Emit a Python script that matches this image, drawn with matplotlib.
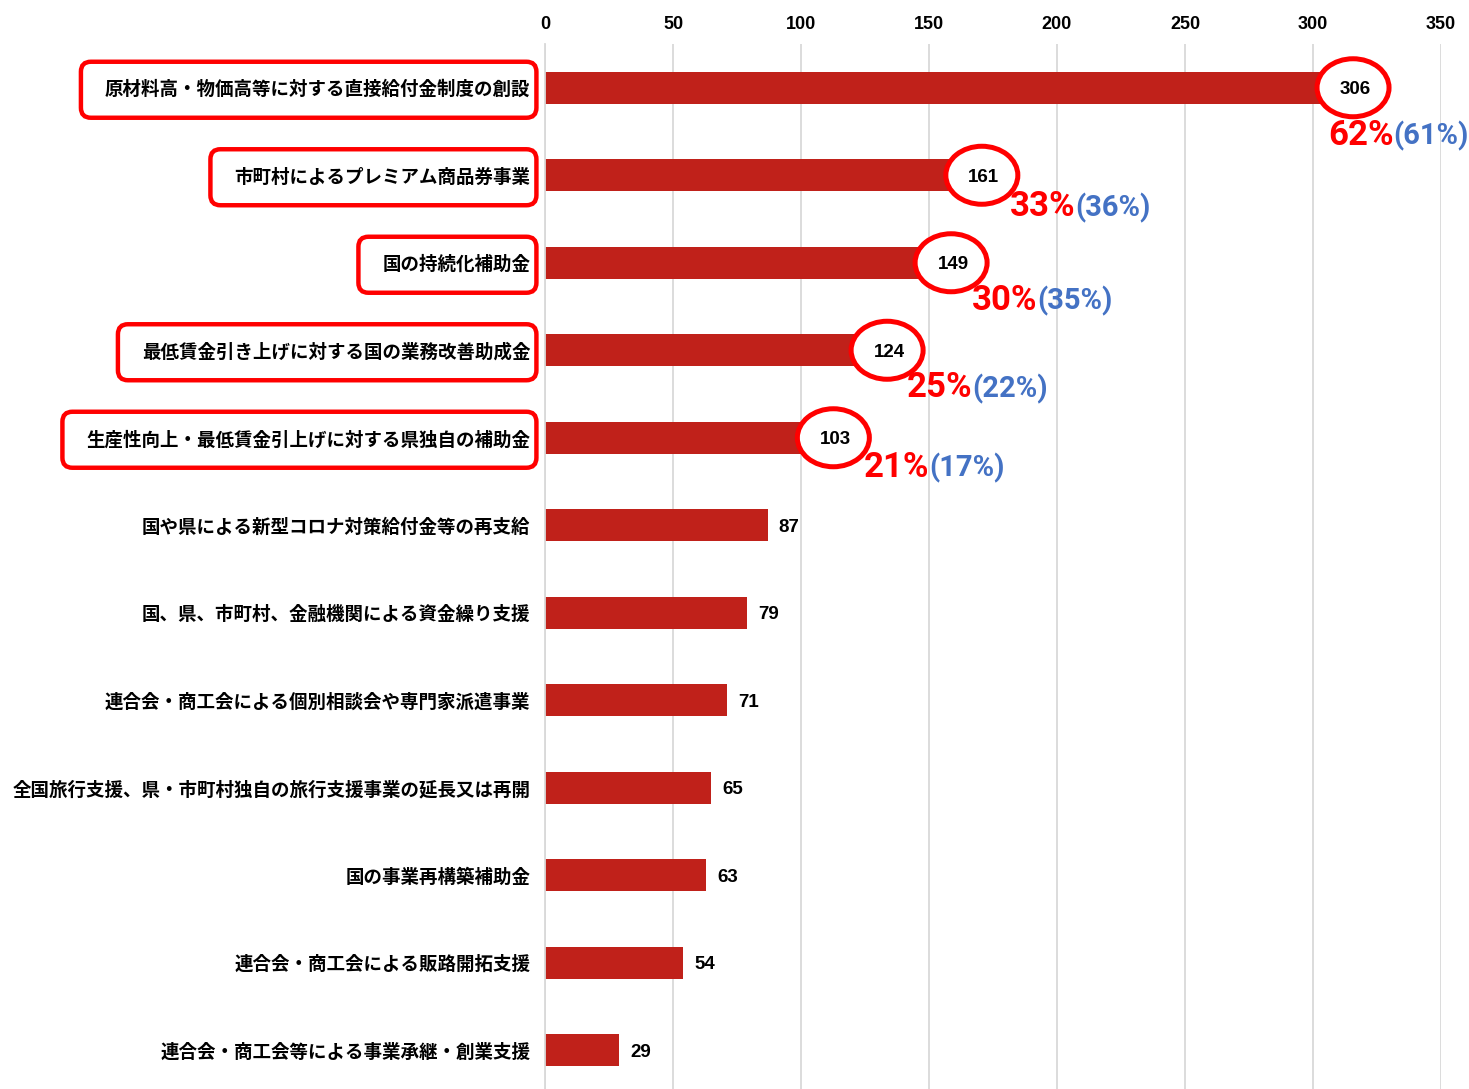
import matplotlib
matplotlib.use('Agg')
import matplotlib.pyplot as plt
from matplotlib.patches import FancyBboxPatch, Ellipse
from matplotlib.transforms import IdentityTransform

# ---------------- data ----------------
categories = [
    '原材料高・物価高等に対する直接給付金制度の創設',
    '市町村によるプレミアム商品券事業',
    '国の持続化補助金',
    '最低賃金引き上げに対する国の業務改善助成金',
    '生産性向上・最低賃金引上げに対する県独自の補助金',
    '国や県による新型コロナ対策給付金等の再支給',
    '国、県、市町村、金融機関による資金繰り支援',
    '連合会・商工会による個別相談会や専門家派遣事業',
    '全国旅行支援、県・市町村独自の旅行支援事業の延長又は再開',
    '国の事業再構築補助金',
    '連合会・商工会による販路開拓支援',
    '連合会・商工会等による事業承継・創業支援',
]
values = [306, 161, 149, 124, 103, 87, 79, 71, 65, 63, 54, 29]
share_now = ['62%', '33%', '30%', '25%', '21%']
share_prev = ['(61%)', '(36%)', '(35%)', '(22%)', '(17%)']
x_ticks = [0, 50, 100, 150, 200, 250, 300, 350]

# ---------------- layout / style ----------------
W, H = 1469, 1089
BAR_COLOR = '#C0211A'
HL_RED = '#FF0000'
BLUE = '#4472C4'
GRID = '#D9D9D9'
LAT = ['Liberation Sans', 'DejaVu Sans']
CJK = ['Noto Sans CJK JP', 'DejaVu Sans']
PCT = ['Roboto', 'DejaVu Sans']
# offsets (px) of percentage text from circle centre: (dx, baseline dy downward)
pct_offsets = [(-25, 57), (28, 41), (21, 47), (20, 47), (30, 39)]

fig = plt.figure(figsize=(W / 100, H / 100), dpi=100)
fig.patch.set_facecolor('white')
ax = fig.add_axes([545 / W, 0, (1441 - 545) / W, (H - 44) / H])

n = len(categories)
ypos = list(range(n))
ax.barh(ypos, values, height=0.37, color=BAR_COLOR, zorder=2)

ax.set_xlim(0, 350)
ax.set_ylim(-0.5 + (H - 44) / 87.5, -0.5)
ax.set_xticks(x_ticks)
ax.set_xticklabels([str(t) for t in x_ticks], family=LAT, fontweight='bold', fontsize=13)
ax.set_yticks(ypos)
ax.set_yticklabels(categories, family=CJK, fontweight='bold', fontsize=13.3)
ax.xaxis.tick_top()
ax.tick_params(axis='x', length=0, pad=8)
ax.tick_params(axis='y', length=0, pad=10.5)
ax.set_axisbelow(True)
ax.xaxis.grid(True, color=GRID, lw=1.3)
for s in ['top', 'right', 'bottom']:
    ax.spines[s].set_visible(False)
ax.spines['left'].set_color(GRID)
ax.spines['left'].set_linewidth(1.3)

value_labels = []
for i, v in enumerate(values):
    t = ax.annotate(str(v), xy=(v, i), xytext=(8, 0), textcoords='offset points',
                    va='center_baseline', ha='left', fontsize=13.5, fontweight='bold',
                    family=LAT, color='black', zorder=6, annotation_clip=False)
    value_labels.append(t)

fig.canvas.draw()
renderer = fig.canvas.get_renderer()

# rounded red boxes around highlighted category labels
ticklabels = ax.get_yticklabels()
for i in range(len(share_now)):
    bb = ticklabels[i].get_window_extent(renderer)
    cy = (bb.y0 + bb.y1) / 2
    x0 = bb.x0 - 24
    x1 = bb.x1 + 6
    box = FancyBboxPatch((x0, cy - 28), x1 - x0, 56,
                         boxstyle='round,pad=0,rounding_size=10',
                         transform=IdentityTransform(), fill=False,
                         edgecolor=HL_RED, lw=3.2, zorder=5)
    fig.add_artist(box)

# circles around value labels + percentage texts
for i in range(len(share_now)):
    bb = value_labels[i].get_window_extent(renderer)
    cx = (bb.x0 + bb.x1) / 2 - 2
    cy = (bb.y0 + bb.y1) / 2 + 2
    e = Ellipse((cx, cy), 72, 58, transform=IdentityTransform(),
                facecolor='white', edgecolor=HL_RED, lw=3.6, zorder=4,
                clip_on=False)
    ax.add_artist(e)
    dx, dyb = pct_offsets[i]
    red = fig.text((cx + dx) / W, (cy - dyb) / H, share_now[i], color=HL_RED,
                   fontsize=25, fontweight='bold', family=PCT,
                   ha='left', va='baseline')
    rb = red.get_window_extent(renderer)
    fig.text(rb.x1 / W, (cy - dyb) / H, share_prev[i], color=BLUE,
             fontsize=21, fontweight='bold', family=PCT,
             ha='left', va='baseline')

fig.savefig('out.png', dpi=100, facecolor='white')
